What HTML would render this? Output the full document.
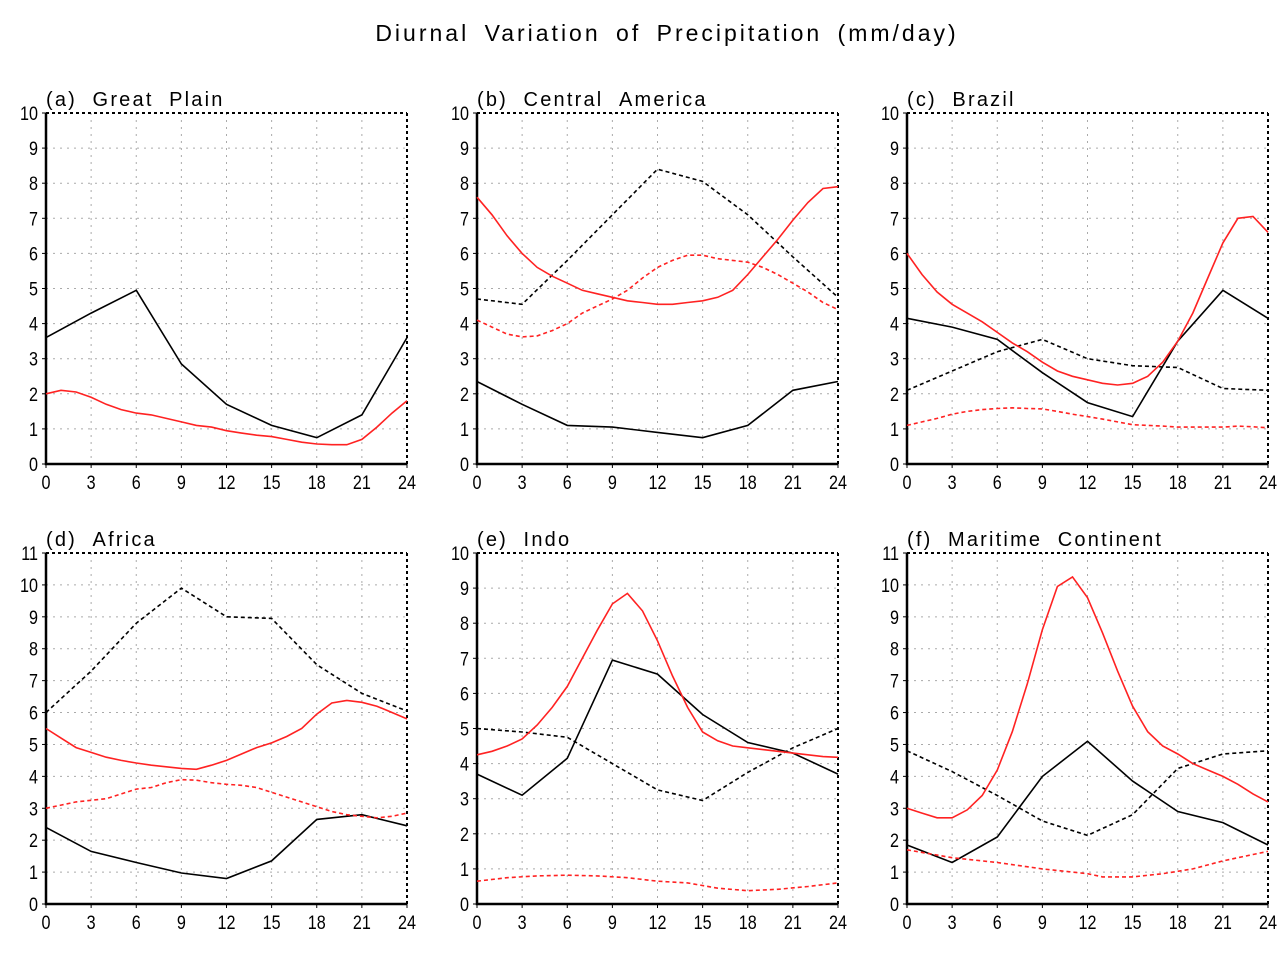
<!DOCTYPE html>
<html><head><meta charset="utf-8"><style>
html,body{margin:0;padding:0;background:#fff;}
svg{display:block;}
text{font-family:"Liberation Sans",sans-serif;}
</style></head><body>
<svg id="s" width="1280" height="960" xmlns="http://www.w3.org/2000/svg">
<text x="667" y="41" font-size="23" text-anchor="middle" letter-spacing="3" word-spacing="6">Diurnal Variation of Precipitation (mm/day)</text>
</svg>
<script>
const P=[
{x:46,y:113,ymax:10,t:"(a) Great Plain",s:[
["k",0,[[0,3.6],[3,4.3],[6,4.95],[9,2.85],[12,1.7],[15,1.1],[18,0.75],[21,1.4],[24,3.6]]],
["r",0,[[0,2.0],[1,2.1],[2,2.05],[3,1.9],[4,1.7],[5,1.55],[6,1.45],[7,1.4],[8,1.3],[9,1.2],[10,1.1],[11,1.05],[12,0.95],[13,0.88],[14,0.82],[15,0.78],[16,0.7],[17,0.62],[18,0.57],[19,0.55],[20,0.55],[21,0.7],[22,1.05],[23,1.45],[24,1.8]]]]},
{x:477,y:113,ymax:10,t:"(b) Central America",s:[
["k",1,[[0,4.7],[3,4.55],[6,5.8],[9,7.1],[12,8.4],[15,8.05],[18,7.1],[21,5.9],[24,4.75]]],
["k",0,[[0,2.35],[3,1.7],[6,1.1],[9,1.05],[12,0.9],[15,0.75],[18,1.1],[21,2.1],[24,2.35]]],
["r",0,[[0,7.6],[1,7.1],[2,6.5],[3,6.0],[4,5.6],[5,5.35],[6,5.15],[7,4.95],[8,4.85],[9,4.75],[10,4.65],[11,4.6],[12,4.55],[13,4.55],[14,4.6],[15,4.65],[16,4.75],[17,4.95],[18,5.4],[19,5.9],[20,6.4],[21,6.95],[22,7.45],[23,7.85],[24,7.9]]],
["r",1,[[0,4.1],[1,3.9],[2,3.7],[3,3.62],[4,3.65],[5,3.8],[6,4.0],[7,4.3],[8,4.5],[9,4.7],[10,4.95],[11,5.3],[12,5.6],[13,5.8],[14,5.95],[15,5.95],[16,5.85],[17,5.8],[18,5.75],[19,5.6],[20,5.4],[21,5.15],[22,4.9],[23,4.6],[24,4.4]]]]},
{x:907,y:113,ymax:10,t:"(c) Brazil",s:[
["k",0,[[0,4.15],[3,3.9],[6,3.55],[9,2.6],[12,1.75],[15,1.35],[18,3.5],[21,4.95],[24,4.15]]],
["k",1,[[0,2.1],[3,2.65],[6,3.2],[9,3.55],[12,3.0],[15,2.8],[18,2.75],[21,2.15],[24,2.1]]],
["r",0,[[0,6.0],[1,5.4],[2,4.9],[3,4.55],[4,4.3],[5,4.05],[6,3.75],[7,3.45],[8,3.2],[9,2.9],[10,2.65],[11,2.5],[12,2.4],[13,2.3],[14,2.25],[15,2.3],[16,2.5],[17,2.9],[18,3.5],[19,4.3],[20,5.3],[21,6.3],[22,7.0],[23,7.05],[24,6.6]]],
["r",1,[[0,1.1],[1,1.2],[2,1.3],[3,1.42],[4,1.5],[5,1.55],[6,1.58],[7,1.6],[8,1.58],[9,1.57],[10,1.5],[11,1.42],[12,1.35],[13,1.28],[14,1.2],[15,1.12],[16,1.1],[17,1.08],[18,1.05],[19,1.05],[20,1.05],[21,1.05],[22,1.08],[23,1.06],[24,1.03]]]]},
{x:46,y:553,ymax:11,t:"(d) Africa",s:[
["k",1,[[0,6.0],[3,7.3],[6,8.8],[9,9.9],[12,9.0],[15,8.95],[18,7.5],[21,6.6],[24,6.05]]],
["k",0,[[0,2.4],[3,1.65],[6,1.3],[9,0.97],[12,0.8],[15,1.35],[18,2.65],[21,2.8],[24,2.45]]],
["r",0,[[0,5.5],[1,5.2],[2,4.9],[3,4.75],[4,4.6],[5,4.5],[6,4.42],[7,4.35],[8,4.3],[9,4.25],[10,4.22],[11,4.35],[12,4.5],[13,4.7],[14,4.9],[15,5.05],[16,5.25],[17,5.5],[18,5.95],[19,6.3],[20,6.38],[21,6.32],[22,6.2],[23,6.0],[24,5.8]]],
["r",1,[[0,3.0],[1,3.1],[2,3.2],[3,3.25],[4,3.3],[5,3.45],[6,3.6],[7,3.65],[8,3.8],[9,3.9],[10,3.88],[11,3.8],[12,3.75],[13,3.72],[14,3.65],[15,3.5],[16,3.35],[17,3.2],[18,3.05],[19,2.9],[20,2.8],[21,2.75],[22,2.7],[23,2.75],[24,2.85]]]]},
{x:477,y:553,ymax:10,t:"(e) Indo",s:[
["k",1,[[0,5.0],[3,4.9],[6,4.75],[9,4.0],[12,3.25],[15,2.95],[18,3.75],[21,4.45],[24,5.0]]],
["k",0,[[0,3.7],[3,3.1],[6,4.15],[9,6.95],[12,6.55],[15,5.4],[18,4.6],[21,4.3],[24,3.7]]],
["r",0,[[0,4.25],[1,4.35],[2,4.5],[3,4.7],[4,5.1],[5,5.6],[6,6.2],[7,7.0],[8,7.8],[9,8.55],[10,8.85],[11,8.35],[12,7.5],[13,6.5],[14,5.6],[15,4.9],[16,4.65],[17,4.5],[18,4.45],[19,4.4],[20,4.35],[21,4.3],[22,4.25],[23,4.2],[24,4.18]]],
["r",1,[[0,0.65],[2,0.75],[4,0.8],[6,0.82],[8,0.8],[10,0.75],[12,0.65],[14,0.6],[16,0.45],[18,0.38],[20,0.42],[22,0.5],[24,0.6]]]]},
{x:907,y:553,ymax:11,t:"(f) Maritime Continent",s:[
["k",1,[[0,4.8],[3,4.15],[6,3.4],[9,2.6],[12,2.15],[15,2.8],[18,4.25],[21,4.7],[24,4.8]]],
["k",0,[[0,1.85],[3,1.3],[6,2.1],[9,4.0],[12,5.1],[15,3.85],[18,2.9],[21,2.55],[24,1.85]]],
["r",0,[[0,3.0],[1,2.85],[2,2.7],[3,2.7],[4,2.95],[5,3.4],[6,4.2],[7,5.4],[8,6.9],[9,8.6],[10,9.95],[11,10.25],[12,9.6],[13,8.5],[14,7.3],[15,6.2],[16,5.4],[17,4.95],[18,4.7],[19,4.4],[20,4.2],[21,4.0],[22,3.75],[23,3.45],[24,3.2]]],
["r",1,[[0,1.7],[3,1.45],[6,1.3],[9,1.1],[12,0.95],[13,0.85],[15,0.85],[17,0.95],[19,1.1],[21,1.35],[23,1.55],[24,1.65]]]]}
];
const W=361,H=351;let h="";
for(const p of P){
 const X=t=>p.x+t/24*W, Y=v=>p.y+H-v/p.ymax*H;
 for(let i=1;i<p.ymax;i++)h+=`<line x1="${p.x}" x2="${p.x+W}" y1="${Y(i)}" y2="${Y(i)}" stroke="#aaa" stroke-dasharray="2,5"/>`;
 for(let t=3;t<24;t+=3)h+=`<line y1="${p.y}" y2="${p.y+H}" x1="${X(t)}" x2="${X(t)}" stroke="#aaa" stroke-dasharray="2,5"/>`;
 for(let i=0;i<=p.ymax;i++){h+=`<line x1="${p.x-4}" x2="${p.x}" y1="${Y(i)}" y2="${Y(i)}" stroke="#000"/>`;
  h+=`<text x="${p.x-8}" y="${Y(i)+7}" font-size="19" text-anchor="end" transform="translate(${p.x-8},0) scale(0.85,1) translate(${-(p.x-8)},0)">${i}</text>`;}
 for(let t=0;t<=24;t+=3){h+=`<line y1="${p.y+H}" y2="${p.y+H+4}" x1="${X(t)}" x2="${X(t)}" stroke="#000"/>`;
  h+=`<text x="${X(t)}" y="${p.y+H+25}" font-size="19" text-anchor="middle" transform="translate(${X(t)},0) scale(0.85,1) translate(${-X(t)},0)">${t}</text>`;}
 h+=`<line x1="${p.x}" x2="${p.x+W}" y1="${p.y}" y2="${p.y}" stroke="#000" stroke-width="2" stroke-dasharray="3,3"/>`;
 h+=`<line x1="${p.x+W}" x2="${p.x+W}" y1="${p.y}" y2="${p.y+H}" stroke="#000" stroke-width="2" stroke-dasharray="3,3"/>`;
 h+=`<polyline points="${p.x},${p.y} ${p.x},${p.y+H} ${p.x+W},${p.y+H}" fill="none" stroke="#000" stroke-width="2.5"/>`;
 for(const [c,d,pts] of p.s){
  h+=`<polyline fill="none" stroke="${c=='k'?'#000':'#f22'}" stroke-width="1.6" ${d?'stroke-dasharray="4,3"':''} points="${pts.map(q=>X(q[0]).toFixed(1)+','+Y(q[1]).toFixed(1)).join(' ')}"/>`;
 }
 h+=`<text x="${p.x}" y="${p.y-7}" font-size="20" letter-spacing="2.2">${p.t.replace(/ /g,'\u00a0\u00a0')}</text>`;
}
document.getElementById('s').insertAdjacentHTML('beforeend',h);
</script>
</body></html>
